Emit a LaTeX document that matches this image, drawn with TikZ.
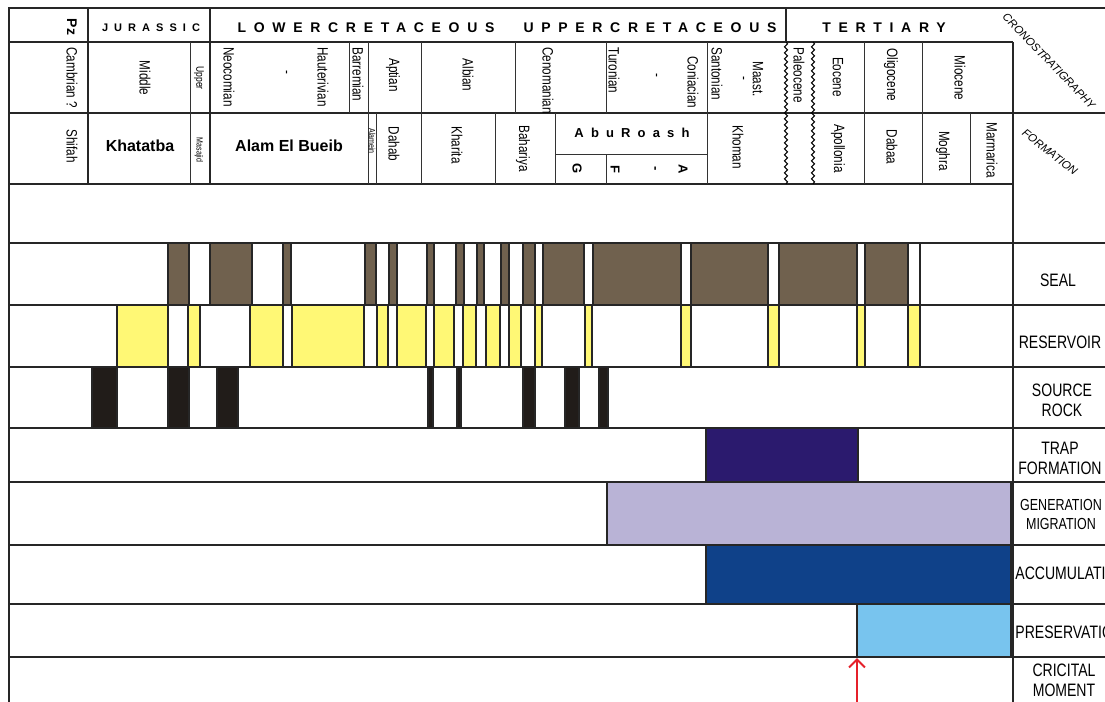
\documentclass[tikz,border=0pt]{standalone}
\usepackage{fontspec}
\setmainfont{Liberation Sans}
\newfontfamily\narrowfont[FakeStretch=0.78]{Liberation Sans}
\newfontfamily\agefont[LetterSpace=55]{Liberation Sans}
\usetikzlibrary{arrows.meta,decorations.pathmorphing}
\definecolor{sealcol}{RGB}{112,97,78}
\definecolor{rescol}{RGB}{255,248,117}
\definecolor{srccol}{RGB}{33,28,25}
\definecolor{trapcol}{RGB}{43,26,110}
\definecolor{gencol}{RGB}{185,179,214}
\definecolor{acccol}{RGB}{15,65,137}
\definecolor{prescol}{RGB}{120,196,238}
\definecolor{momcol}{RGB}{229,32,42}
\tikzset{%
	grid/.style     = {line width=0.7pt, draw=black!85},
	divider/.style  = {line width=0.5pt, draw=black!80},
	wavyline/.style = {line width=0.5pt, decorate, decoration={snake, amplitude=0.8pt, segment length=3pt}},
	sealbox/.style  = {draw=black!85, line width=0.6pt, fill=sealcol},
	resbox/.style   = {draw=black!85, line width=0.6pt, fill=rescol},
	srcbox/.style   = {draw=black!85, line width=0.6pt, fill=srccol},
	cellbox/.style  = {draw=black!85, line width=0.6pt},
	eventbox/.style = {draw=black!85, line width=0.6pt},
	age/.style      = {inner sep=0pt, font=\agefont\bfseries\fontsize{7}{8}\selectfont},
	vlab/.style     = {rotate=-90, inner sep=0pt, font=\narrowfont\fontsize{7.5}{8}\selectfont},
	tinylab/.style  = {rotate=-90, inner sep=0pt, font=\narrowfont\fontsize{4.5}{5}\selectfont},
	fmlab/.style    = {inner sep=0pt, font=\bfseries\fontsize{8}{9}\selectfont},
	elem/.style     = {align=center, inner sep=0pt, font=\narrowfont\fontsize{9}{10}\selectfont},
	diaglab/.style  = {inner sep=0pt, font=\itshape\fontsize{5.6}{6}\selectfont},
	momarrow/.style = {draw=momcol, line width=1pt, -{Straight Barb[length=4pt,width=8pt]}},
}
\begin{document}
\begin{tikzpicture}[x=0.5pt,y=-0.5pt]
	\useasboundingbox (0,0) rectangle (1105,702);
	% frame and rows
	\draw[grid] (1105,8) -- (9,8) -- (9,702);
	\draw[grid] (9,42) -- (1013,42);
	\draw[grid] (9,113) -- (1105,113);
	\draw[grid] (9,184) -- (1013,184);
	\foreach \y in {243,305,367,428,482,545,604}
		\draw[grid] (9,\y) -- (1105,\y);
	\draw[grid, line width=1.1pt] (9,657) -- (1105,657);
	\draw[grid] (1013,42) -- (1013,702);
	% column dividers of the header
	\draw[grid] (88,8) -- (88,184);
	\draw[grid] (210,8) -- (210,184);
	\draw[grid] (786,8) -- (786,42);
	\foreach \x in {190,368,707,864,922}
		\draw[divider] (\x,42) -- (\x,184);
	\foreach \x in {349,421,515,606}
		\draw[divider] (\x,42) -- (\x,113);
	\foreach \x in {376,421,495,555,970}
		\draw[divider] (\x,113) -- (\x,184);
	\draw[divider] (555,154) -- (707,154);
	\draw[divider] (606,154) -- (606,184);
	\draw[wavyline] (786,42) -- (786,184);
	\draw[wavyline] (813,42) -- (813,184);

	% periods
	\node[age, rotate=-90, font=\bfseries\fontsize{7}{8}\selectfont] (pz) at (72,27) {Pz};
	\node[age, font=\agefont\bfseries\fontsize{5.5}{6}\selectfont] (jurassic) at (151,28) {JURASSIC};
	\node[age] (lowercret) at (366,28) {LOWERCRETACEOUS};
	\node[age] (uppercret) at (650,28) {UPPERCRETACEOUS};
	\node[age] (tertiary) at (884,28) {TERTIARY};

	% epochs and stages
	\foreach \x/\y/\t [count=\i] in {72/47/Cambrian ?, 229/47/Neocomian, 323/47/Hauterivian,
		358/47/Barremian, 548/47/Cenomanian, 614/47/Turonian, 693/56/Coniacian,
		717/47/Santonian, 758/61/Maast., 799/47/Paleocene, 891/48/Oligocene}
		\node[vlab, anchor=west] (stage-\i) at (\x,\y) {\t};
	\foreach \x/\y/\t [count=\i] in {145/78/Middle, 285/72/-, 393/75/Aptian, 468/75/Albian,
		655/75/-, 742/78/-, 838/77/Eocene, 960/78/Miocene}
		\node[vlab] (epoch-\i) at (\x,\y) {\t};
	\node[tinylab, font=\narrowfont\fontsize{5.5}{6}\selectfont] (upper) at (199,78) {Upper};

	% formations
	\foreach \x/\y/\t [count=\i] in {72/129/Shifah, 523/125/Bahariya, 738/125/Khoman,
		838/124/Apollonia, 992/122/Marmarica}
		\node[vlab, anchor=west] (fm-\i) at (\x,\y) {\t};
	\foreach \x/\y/\t [count=\i] in {394/144/Dahab, 457/145/Kharita, 892/147/Dabaa, 943/151/Moghra}
		\node[vlab] (fmc-\i) at (\x,\y) {\t};
	\node[tinylab] (masajid) at (199,150) {Masajid};
	\node[tinylab, anchor=west] (alamein) at (372,128) {Alamein};
	\node[fmlab] (khatatba) at (140,146) {Khatatba};
	\node[fmlab] (alamelbueib) at (289,146) {Alam El Bueib};
	\node[age, font=\agefont\bfseries\fontsize{6.5}{7}\selectfont] (aburoash) at (632,133) {AbuRoash};
	\foreach \x/\t [count=\i] in {577/G, 615/F, 654/-, 683/A}
		\node[vlab, font=\bfseries\fontsize{6.5}{7}\selectfont] (member-\i) at (\x,169) {\t};

	% seal
	\foreach \a/\b in {168/189, 210/252, 283/291, 365/376, 389/397, 427/434, 456/464, 477/484,
		501/509, 523/535, 543/584, 593/681, 691/768, 779/857, 865/908}
		\draw[sealbox] (\a,243) rectangle (\b,305);
	\draw[cellbox] (908,243) rectangle (920,305);
	% reservoir
	\foreach \a/\b in {117/168, 188/200, 250/283, 292/364, 377/388, 397/426, 434/454, 463/476,
		486/500, 509/521, 535/542, 585/592, 681/691, 768/779, 857/865, 908/920}
		\draw[resbox] (\a,305) rectangle (\b,367);
	% source rock
	\foreach \a/\b in {92/117, 168/189, 217/238, 428/433, 457/461, 523/535, 565/579, 599/608}
		\draw[srcbox] (\a,367) rectangle (\b,428);
	\draw[cellbox] (608,367) -- (608,428);

	% processes
	\draw[eventbox, fill=trapcol] (706,428) rectangle (858,482);
	\draw[eventbox, fill=gencol] (607,482) rectangle (1011,545);
	\draw[eventbox, fill=acccol] (706,545) rectangle (1011,604);
	\draw[eventbox, fill=prescol] (857,604) rectangle (1011,657);

	% critical moment
	\coordinate (mom-base) at (857,702);
	\coordinate (mom-tip) at (857,658);
	\draw[momarrow] (mom-base) -- (mom-tip);

	% element names
	\node[elem] (seal) at (1058,280) {SEAL};
	\node[elem] (reservoir) at (1060,342) {RESERVOIR};
	\node[elem] (source) at (1062,400) {SOURCE\\ROCK};
	\node[elem] (trap) at (1060,458) {TRAP\\FORMATION};
	\node[elem, font=\narrowfont\fontsize{8}{9.5}\selectfont] (genmig) at (1061,514) {GENERATION\\MIGRATION};
	\node[elem, anchor=west] (accum) at (1015,573) {ACCUMULATION};
	\node[elem, anchor=west] (preserv) at (1015,632) {PRESERVATION};
	\node[elem] (moment) at (1064,680) {CRICITAL\\MOMENT};
	\node[diaglab, rotate=-46] (crono) at (1049,61) {CRONOSTRATIGRAPHY};
	\node[diaglab, rotate=-38] (formation) at (1050,152) {FORMATION};
\end{tikzpicture}
\end{document}
